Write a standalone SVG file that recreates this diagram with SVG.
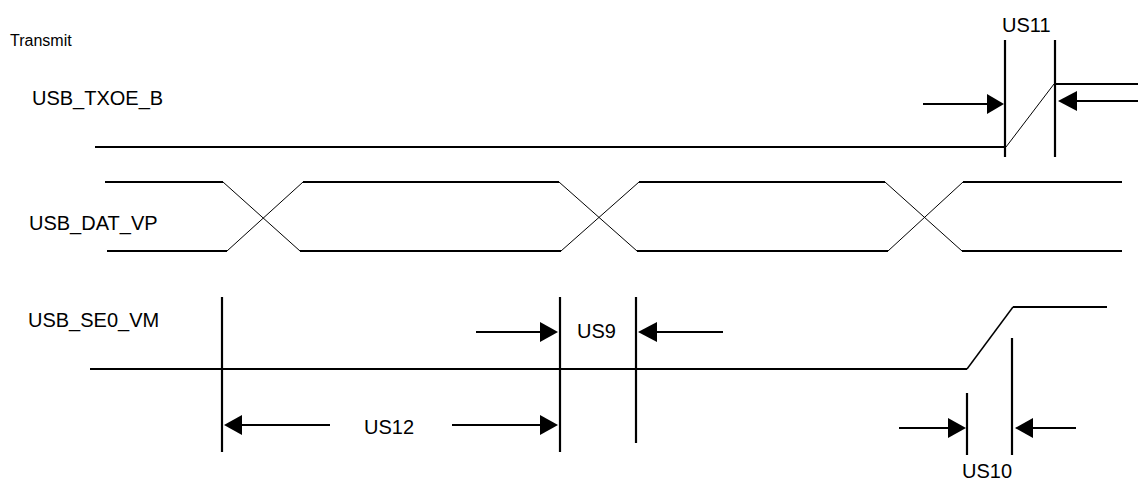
<svg xmlns="http://www.w3.org/2000/svg" width="1138" height="483" viewBox="0 0 1138 483">
<style>
text{font-family:"Liberation Sans",Arial,Helvetica,sans-serif;font-size:20px;fill:#000}
.sig{stroke:#000;stroke-width:2.2;fill:none}
.thin{stroke:#000;stroke-width:1;fill:none}
.mk{stroke:#000;stroke-width:2.2;fill:none}
.ar{fill:#000}
</style>
<rect width="1138" height="483" fill="#fff"/>
<g id="title"><text x="10" y="46" style="font-size:16px">Transmit</text></g>
<g id="labels">
<text x="32" y="105">USB_TXOE_B</text>
<text x="29" y="230">USB_DAT_VP</text>
<text x="28" y="327">USB_SE0_VM</text>
</g>
<g id="txoe">
<polyline class="sig" points="95,147 1006,147"/>
<line class="thin" x1="1006" y1="147" x2="1054" y2="84"/>
<polyline class="sig" points="1055,84 1138,84"/>
</g>
<g id="datvp">
<line class="sig" x1="105" y1="182" x2="223" y2="182"/>
<line class="sig" x1="107" y1="251" x2="227" y2="251"/>
<line class="thin" x1="223" y1="182" x2="300" y2="251"/>
<line class="thin" x1="227" y1="251" x2="303" y2="182"/>
<line class="sig" x1="303" y1="182" x2="559" y2="182"/>
<line class="sig" x1="300" y1="251" x2="561" y2="251"/>
<line class="thin" x1="559" y1="182" x2="637" y2="251"/>
<line class="thin" x1="561" y1="251" x2="639" y2="182"/>
<line class="sig" x1="639" y1="182" x2="885" y2="182"/>
<line class="sig" x1="637" y1="251" x2="888" y2="251"/>
<line class="thin" x1="885" y1="182" x2="962" y2="251"/>
<line class="thin" x1="888" y1="251" x2="963" y2="182"/>
<line class="sig" x1="963" y1="182" x2="1122" y2="182"/>
<line class="sig" x1="962" y1="251" x2="1122" y2="251"/>
</g>
<g id="se0vm">
<line class="sig" x1="90" y1="369" x2="967" y2="369"/>
<line class="sig" x1="967" y1="369" x2="1013" y2="307" style="stroke-width:1.5"/>
<line class="sig" x1="1013" y1="307" x2="1107" y2="307"/>
</g>
<g id="connectors">
<line class="mk" x1="1005" y1="40" x2="1005" y2="157"/>
<line class="mk" x1="1055" y1="40" x2="1055" y2="157"/>
<line class="mk" x1="923" y1="104" x2="990" y2="104"/>
<polygon class="ar" points="1004,104 987,94 987,114"/>
<line class="mk" x1="1074" y1="101" x2="1138" y2="101"/>
<polygon class="ar" points="1058,101 1077,91 1077,111"/>
<line class="mk" x1="222" y1="297" x2="222" y2="452"/>
<line class="mk" x1="560" y1="297" x2="560" y2="452"/>
<line class="mk" x1="636" y1="297" x2="636" y2="443"/>
<line class="mk" x1="476" y1="332" x2="543" y2="332"/>
<polygon class="ar" points="558,332 540,322 540,342"/>
<line class="mk" x1="654" y1="332" x2="723" y2="332"/>
<polygon class="ar" points="638,332 657,322 657,342"/>
<line class="mk" x1="240" y1="425" x2="330" y2="425"/>
<polygon class="ar" points="224,425 242,415 242,435"/>
<line class="mk" x1="452" y1="425" x2="543" y2="425"/>
<polygon class="ar" points="558,425 540,415 540,435"/>
<line class="mk" x1="967" y1="393" x2="967" y2="455"/>
<line class="mk" x1="1012" y1="338" x2="1012" y2="455"/>
<line class="mk" x1="899" y1="428" x2="950" y2="428"/>
<polygon class="ar" points="966,428 948,418 948,438"/>
<line class="mk" x1="1030" y1="428" x2="1076" y2="428"/>
<polygon class="ar" points="1015,428 1033,418 1033,438"/>
</g>
<g id="timing-labels">
<text x="1002" y="32">US11</text>
<text x="577" y="338">US9</text>
<text x="364" y="434">US12</text>
<text x="962" y="478">US10</text>
</g>
</svg>
